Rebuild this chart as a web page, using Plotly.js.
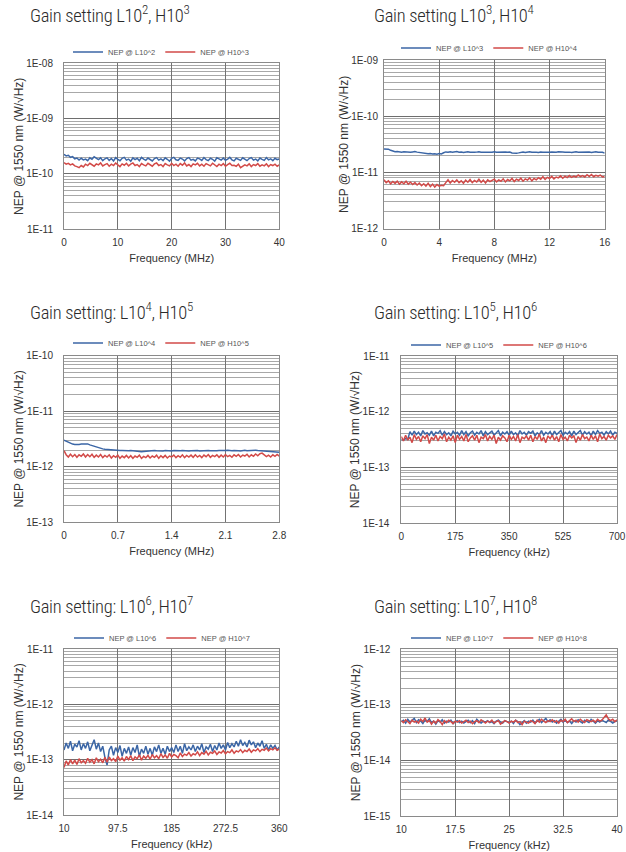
<!DOCTYPE html>
<html>
<head>
<meta charset="utf-8">
<script src="https://cdn.plot.ly/plotly-3.0.1.min.js"></script>
<style>
html,body{margin:0;padding:0;background:#fff;}
#chart{width:626px;height:852px;}
.annotation-text{letter-spacing:-0.3px;}
</style>
</head>
<body>
<div id="chart"></div>
<script>
// ---------- DATA ----------
const titles = [
  'Gain setting L10<sup>2</sup>, H10<sup>3</sup>',
  'Gain setting L10<sup>3</sup>, H10<sup>4</sup>',
  'Gain setting: L10<sup>4</sup>, H10<sup>5</sup>',
  'Gain setting: L10<sup>5</sup>, H10<sup>6</sup>',
  'Gain setting: L10<sup>6</sup>, H10<sup>7</sup>',
  'Gain setting: L10<sup>7</sup>, H10<sup>8</sup>'
];
const blueNames = ['NEP @ L10^2','NEP @ L10^3','NEP @ L10^4','NEP @ L10^5','NEP @ L10^6','NEP @ L10^7'];
const redNames  = ['NEP @ H10^3','NEP @ H10^4','NEP @ H10^5','NEP @ H10^6','NEP @ H10^7','NEP @ H10^8'];
const xTitles = ['Frequency (MHz)','Frequency (MHz)','Frequency (MHz)','Frequency (kHz)','Frequency (kHz)','Frequency (kHz)'];

const xTicks1 = [0,10,20,30,40];
const xTicks2 = [0,4,8,12,16];
const xTicks3 = [0,0.7,1.4,2.1,2.8];
const xTicks4 = [0,175,350,525,700];
const xTicks5 = [10,97.5,185,272.5,360];
const xTicks6 = [10,17.5,25,32.5,40];

const yTicks1 = ['1E-11','1E-10','1E-09','1E-08'];
const yTicks2 = ['1E-12','1E-11','1E-10','1E-09'];
const yTicks3 = ['1E-13','1E-12','1E-11','1E-10'];
const yTicks4 = ['1E-14','1E-13','1E-12','1E-11'];
const yTicks5 = ['1E-14','1E-13','1E-12','1E-11'];
const yTicks6 = ['1E-15','1E-14','1E-13','1E-12'];

// Units of the series arrays below (W/sqrt(Hz))
const unit1 = 1e-12, unit2 = 1e-13, unit3 = 1e-14, unit4 = 1e-14, unit5 = 1e-15, unit6 = 1e-15;

// Panel 1 (0-40 MHz)
const blue1 = [226,212,218,200,206,188,194,178,192,180,186,174,196,184,204,190,182,196,174,188,196,176,190,172,198,184,174,192,200,178,186,170,196,182,192,174,200,186,176,194,180,172,190,198,178,188,174,196,184,170,192,200,180,176,194,186,172,190,198,178,184,172,194,188,176,198,182,174,192,184,170,196,188,178,194,176,186,200,180,172,192,184,176,196,182,174,190,198,178,186,172,194,184,176,198,180,188,174,192,182,186];
const red1 = [160,150,156,146,152,140,136,130,142,134,150,142,156,144,138,152,146,158,140,148,154,138,150,142,158,146,136,152,144,156,140,150,158,142,148,136,154,146,140,156,144,138,152,158,142,148,136,154,146,140,156,142,150,138,154,144,158,140,148,136,152,146,156,140,150,138,154,144,140,156,146,136,150,142,154,138,148,156,142,144,138,150,130,138,146,140,152,136,148,142,154,138,146,140,152,136,148,142,150,138,146];

// Panel 2 (0-16 MHz)
const blue2 = [262,262,260,248,238,234,236,232,230,234,231,233,229,232,235,230,226,222,218,220,215,218,213,216,212,217,214,224,232,230,233,228,231,235,229,232,227,231,234,229,232,228,230,234,229,231,227,232,230,228,233,229,231,226,230,232,228,231,222,218,220,223,228,231,227,230,233,228,231,229,226,232,230,228,233,229,231,227,230,234,229,231,228,232,230,227,231,233,229,230,228,232,229,231,227,230,233,228,231,229,221];
const red2 = [74,66,71,63,69,64,70,62,68,63,70,62,67,61,66,60,65,58,63,57,64,56,62,55,61,57,59,58,66,74,65,72,67,74,66,71,64,73,67,75,66,72,68,76,67,73,65,74,69,72,76,68,74,70,77,68,75,71,78,69,76,72,79,70,77,73,80,71,78,74,81,76,84,75,82,78,85,77,83,80,87,79,86,81,88,82,86,83,90,84,88,83,91,85,92,84,89,86,90,83,85];

// Panel 3 (0-2.8 MHz)
const blue3 = [300,288,272,262,256,252,250,253,256,258,262,258,248,240,232,226,220,215,210,206,204,202,200,199,197,198,196,197,195,196,194,196,193,195,192,190,187,189,191,193,195,193,196,194,192,195,193,196,194,195,193,196,194,192,195,197,194,196,193,195,197,194,196,193,195,198,194,196,195,193,196,194,197,195,193,196,198,195,194,196,197,195,193,196,198,195,197,194,196,198,196,194,197,195,190,188,186,188,185,183,182];
const red3 = [195,165,150,168,152,166,148,164,154,170,150,166,152,168,148,162,150,166,146,160,150,164,144,158,148,162,142,156,146,160,144,158,142,156,148,162,142,154,146,160,144,156,148,162,142,158,146,160,144,156,150,162,146,158,148,164,146,160,150,162,148,164,150,160,146,162,152,166,148,160,152,164,148,162,150,166,152,160,148,164,154,166,150,162,156,168,150,164,154,170,158,172,176,166,152,162,150,164,154,166,156];

// Panel 4 (0-700 kHz)
const blue4 = [32,31,33,32,44,38,45,39,43,37,46,40,42,38,45,37,43,41,46,38,44,39,42,37,45,40,43,38,46,39,44,37,42,45,38,43,40,46,37,44,39,42,45,38,41,46,37,43,40,44,38,45,39,42,37,46,40,43,38,44,41,45,37,42,39,46,38,43,40,44,37,45,39,42,46,38,43,40,44,37,45,39,42,46,38,44,40,43,37,45,39,46,41,43,38,44,40,45,38,43,41];
const red4 = [36,30,38,31,35,28,39,32,36,29,37,33,39,27,35,31,38,30,36,33,40,29,35,31,37,28,38,32,36,30,39,29,34,37,31,38,28,35,33,39,30,36,32,38,27,35,31,37,34,29,38,32,36,30,39,28,35,33,37,31,38,29,36,32,40,30,35,28,37,33,38,31,36,29,39,32,35,30,38,34,37,28,36,31,39,33,35,30,38,32,37,29,40,33,36,31,38,34,37,32,39];

// Panel 5 (10-360 kHz)
const blue5 = [150,200,160,215,145,190,170,220,150,195,160,210,145,185,230,155,200,140,175,110,80,150,175,120,165,135,180,115,160,130,170,120,165,135,185,115,155,130,175,125,160,120,170,140,185,130,160,125,175,140,165,135,185,140,175,130,195,145,170,150,185,140,175,150,195,135,170,155,190,140,180,150,200,160,185,150,205,165,195,170,215,175,230,180,205,170,225,185,210,165,200,175,220,160,190,150,185,160,180,150,170];
const red5 = [72,95,80,100,84,98,82,104,88,96,86,106,90,100,84,108,92,102,88,110,90,112,96,104,92,116,98,108,94,114,100,118,96,112,104,122,98,116,106,120,102,124,108,118,104,128,110,122,106,130,112,124,118,108,132,114,126,120,134,116,128,122,138,118,134,126,142,122,136,130,144,124,138,132,146,128,140,134,150,130,144,138,152,134,148,140,156,136,150,144,158,140,154,148,162,144,158,150,164,148,156];

// Panel 6 (10-40 kHz)
const blue6 = [50,53,47,55,49,52,57,48,54,51,46,53,50,56,48,51,45,52,49,54,47,51,49,53,46,50,52,48,51,47,50,53,48,52,46,55,50,47,51,49,52,48,50,46,51,53,49,47,52,50,48,51,46,53,50,44,49,52,47,51,49,53,47,50,55,48,52,57,50,54,49,52,47,51,55,49,53,48,51,46,52,49,54,50,47,53,51,48,55,50,47,52,49,53,50,48,54,51,47,50,52];
const red6 = [52,48,54,50,46,53,49,51,47,55,50,58,49,52,45,51,47,54,50,44,52,48,53,50,46,51,49,52,47,50,53,48,51,46,50,52,48,54,50,47,51,49,53,47,50,52,45,49,52,50,47,51,49,53,48,50,44,51,49,47,52,50,46,53,49,55,51,48,52,50,54,49,52,47,53,50,55,48,52,56,50,53,49,55,51,48,54,52,50,53,49,55,51,53,58,66,56,52,55,50,54];

// ---------- LAYOUT / BUILD ----------
const W = 626, H = 852;
const BLUE = '#3b66a6', RED = '#d24a48';
const TXT = "'Liberation Sans', Arial, sans-serif";
const TTL = "'Liberation Sans Narrow', 'Roboto Condensed', 'Liberation Sans', Arial, sans-serif";

const boxes = [
  [64, 279.3, 63.3, 229.3],
  [384, 604.7, 60, 228.7],
  [64, 279.3, 355.7, 522.3],
  [401.3, 617, 356, 523.3],
  [64, 279.3, 649, 815],
  [401.3, 617, 649.3, 816]
];
const titlePos = [[28,15],[372,15],[28,312],[372,312],[28,605],[372,605]];
const legendPos = [[161,52],[489,48],[161,343],[499,345],[162,638],[499,638]];
const yLabStand = [8,3,8,9,8,8];

const xTicks = [xTicks1,xTicks2,xTicks3,xTicks4,xTicks5,xTicks6];
const yTicks = [yTicks1,yTicks2,yTicks3,yTicks4,yTicks5,yTicks6];
const units = [unit1,unit2,unit3,unit4,unit5,unit6];
const blues = [blue1,blue2,blue3,blue4,blue5,blue6];
const reds = [red1,red2,red3,red4,red5,red6];

const data = [];
const layout = {
  width: W, height: H,
  margin: {l:0, r:0, t:0, b:0},
  paper_bgcolor: '#fff', plot_bgcolor: '#fff',
  showlegend: true,
  annotations: []
};

function xgrid(arr, n) {
  const a = arr[0], b = arr[arr.length-1];
  const out = [];
  for (let i = 0; i < n; i++) out.push(a + (b - a) * i / (n - 1));
  return out;
}

for (let p = 0; p < 6; p++) {
  const k = p + 1;
  const xa = 'xaxis' + (k === 1 ? '' : k);
  const ya = 'yaxis' + (k === 1 ? '' : k);
  const xr = 'x' + (k === 1 ? '' : k);
  const yr = 'y' + (k === 1 ? '' : k);
  const lg = 'legend' + (k === 1 ? '' : k);
  const [L, R, T, B] = boxes[p];
  const dec0 = Math.round(Math.log10(parseFloat(yTicks[p][0])));
  const decVals = yTicks[p].map(s => parseFloat(s));

  data.push({
    x: xgrid(xTicks[p], blues[p].length), y: blues[p].map(v => v * units[p]),
    type: 'scatter', mode: 'lines', name: blueNames[p],
    line: {color: BLUE, width: 1.5}, xaxis: xr, yaxis: yr, legend: lg
  });
  data.push({
    x: xgrid(xTicks[p], reds[p].length), y: reds[p].map(v => v * units[p]),
    type: 'scatter', mode: 'lines', name: redNames[p],
    line: {color: RED, width: 1.5}, xaxis: xr, yaxis: yr, legend: lg
  });

  layout[xa] = {
    domain: [L / W, R / W], anchor: yr,
    range: [xTicks[p][0], xTicks[p][xTicks[p].length-1]],
    tickmode: 'array', tickvals: xTicks[p], ticktext: xTicks[p].map(String),
    showgrid: true, gridcolor: '#737373', gridwidth: 1,
    showline: true, linecolor: '#8a8a8a', linewidth: 1, mirror: true,
    zeroline: false, ticks: '', ticklabelstandoff: 4,
    tickfont: {family: TXT, size: 10, color: '#333'},
    title: {text: xTitles[p], font: {family: TXT, size: 11, color: '#333'}, standoff: 7},
    fixedrange: true
  };
  layout[ya] = {
    domain: [1 - B / H, 1 - T / H], anchor: xr,
    type: 'log', range: [dec0, dec0 + 3],
    tickmode: 'array', tickvals: decVals, ticktext: yTicks[p],
    showgrid: true, gridcolor: '#6e6e6e', gridwidth: 1,
    minor: {dtick: 'D1', showgrid: true, gridcolor: '#a8a8a8', gridwidth: 1, ticks: ''},
    showline: true, linecolor: '#8a8a8a', linewidth: 1, mirror: true,
    zeroline: false, ticks: '', ticklabelstandoff: yLabStand[p],
    tickfont: {family: TXT, size: 10, color: '#333'},
    title: {text: 'NEP @ 1550 nm (W/√Hz)', font: {family: TXT, size: 12, color: '#333'}, standoff: 0},
    fixedrange: true
  };
  layout[lg] = {
    orientation: 'h', x: legendPos[p][0] / W, y: 1 - legendPos[p][1] / H,
    xanchor: 'center', yanchor: 'middle',
    font: {family: TXT, size: 7.5, color: '#555'},
    bgcolor: 'rgba(0,0,0,0)', borderwidth: 0,
    itemwidth: 30, tracegroupgap: 0
  };
  layout.annotations.push({
    xref: 'paper', yref: 'paper',
    x: titlePos[p][0] / W, y: 1 - titlePos[p][1] / H,
    xanchor: 'left', yanchor: 'middle', showarrow: false,
    text: titles[p], font: {family: TTL, size: 18.5, color: '#2a2a2a', weight: 300}
  });
}

Plotly.newPlot('chart', data, layout, {staticPlot: true, displayModeBar: false});
</script>
</body>
</html>
